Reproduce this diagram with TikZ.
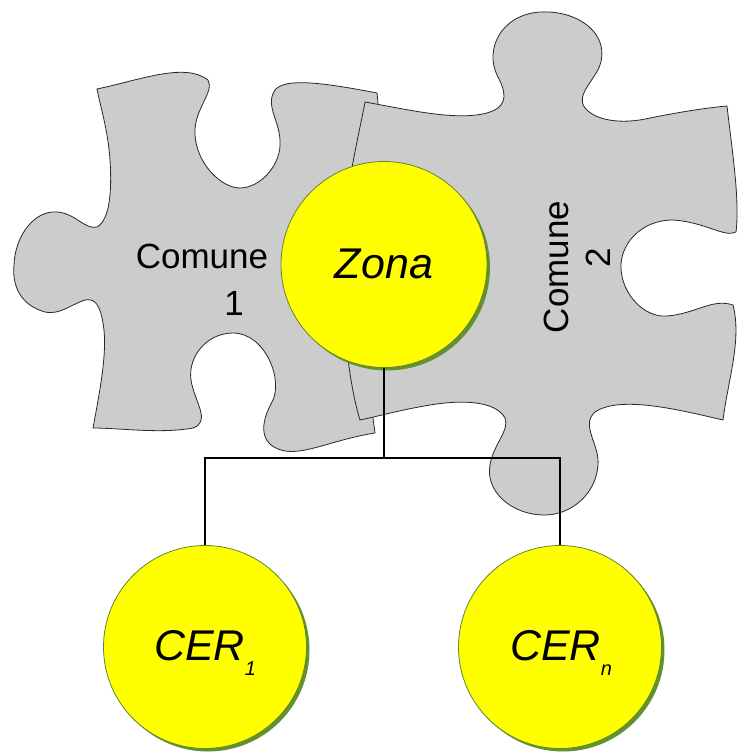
\documentclass[tikz,border=0pt]{standalone}
\usepackage{fontspec}
\setmainfont{Liberation Sans}
\usetikzlibrary{shadows}
\definecolor{piecegray}{RGB}{204,204,204}
\definecolor{pieceline}{RGB}{40,40,40}
\definecolor{bubble}{RGB}{255,255,0}
\definecolor{bubbleline}{RGB}{95,135,50}
\definecolor{bubbleshadow}{RGB}{100,145,45}
\newcommand{\subidx}[1]{\raisebox{-15pt}{\fontsize{20}{20}\selectfont #1}}
\begin{document}
\begin{tikzpicture}[x=1pt,y=-1pt,
  piece/.style={fill=piecegray,draw=pieceline,line width=0.8pt},
  bubblenode/.style={circle,minimum size=206pt,inner sep=0pt,fill=bubble,
    draw=bubbleline,line width=0.8pt,
    drop shadow={shadow xshift=3pt,shadow yshift=-3pt,fill=bubbleshadow,opacity=1}},
  label1/.style={font=\fontsize{35}{35}\selectfont,inner sep=0pt},
  bigit/.style={font=\fontsize{43}{43}\selectfont\itshape,inner sep=0pt},
  conn/.style={line width=1.8pt,black}]
\useasboundingbox (0,0) rectangle (737,753);

% first puzzle piece (Comune 1)
\draw[piece] (97,89)
  .. controls (140,80) and (185,62) .. (208,80)
  .. controls (215,92) and (193,110) .. (195,135)
  .. controls (197,165) and (222,188) .. (240,188)
  .. controls (260,188) and (282,165) .. (280,140)
  .. controls (279,120) and (265,105) .. (275,90)
  .. controls (285,78) and (320,82) .. (377,93)
  -- (378,103) -- (373,418) -- (375,433)
  .. controls (330,440) and (300,458) .. (278,449)
  .. controls (258,441) and (262,420) .. (272,402)
  .. controls (284,380) and (265,333) .. (233,333)
  .. controls (205,333) and (185,360) .. (192,385)
  .. controls (197,405) and (210,422) .. (193,428)
  .. controls (160,434) and (120,428) .. (93,428)
  .. controls (100,390) and (108,350) .. (103,323)
  .. controls (100,305) and (95,298) .. (85,300)
  .. controls (70,305) and (60,315) .. (45,312)
  .. controls (20,305) and (12,285) .. (14,265)
  .. controls (15,235) and (35,210) .. (57,212)
  .. controls (75,213) and (85,230) .. (97,227)
  .. controls (110,220) and (112,190) .. (110,160)
  .. controls (108,130) and (100,105) .. (97,89) -- cycle;

% second puzzle piece (Comune 2)
\draw[piece] (365,102)
  .. controls (410,110) and (460,122) .. (490,112)
  .. controls (510,105) and (505,90) .. (497,75)
  .. controls (485,50) and (500,15) .. (540,12)
  .. controls (580,10) and (610,35) .. (600,65)
  .. controls (595,80) and (575,95) .. (585,108)
  .. controls (595,120) and (620,125) .. (650,118)
  .. controls (680,112) and (705,108) .. (727,106)
  .. controls (732,150) and (740,200) .. (736,232)
  .. controls (725,238) and (705,222) .. (673,220)
  .. controls (640,220) and (620,245) .. (621,268)
  .. controls (622,295) and (645,318) .. (667,316)
  .. controls (695,314) and (712,298) .. (733,305)
  .. controls (742,340) and (728,380) .. (723,420)
  .. controls (680,410) and (620,395) .. (595,412)
  .. controls (580,425) and (600,445) .. (598,465)
  .. controls (596,495) and (570,515) .. (545,515)
  .. controls (510,515) and (485,490) .. (490,465)
  .. controls (493,445) and (510,430) .. (505,418)
  .. controls (495,400) and (460,400) .. (430,405)
  .. controls (400,410) and (375,417) .. (360,420)
  .. controls (352,395) and (343,340) .. (342,270)
  .. controls (342,200) and (358,140) .. (365,102) -- cycle;

% piece labels
\node[label1,anchor=base] (c1) at (202,268) {Comune};
\node[label1,anchor=base] (c1n) at (234,315) {1};
\node[label1,anchor=base,rotate=90] (c2) at (568,267) {Comune};
\node[label1,anchor=base,rotate=90] (c2n) at (610,258) {2};

% bubbles
\node[bubblenode] (zona) at (384,264.5) {};
\node[bigit,anchor=base] (zonat) at (384,278) {Zona};
\node[bubblenode,minimum size=203pt] (cer1) at (205,647) {};
\node[bigit,anchor=base] (cer1t) at (205,660) {CER\subidx{1}};
\node[bubblenode,minimum size=203pt] (cern) at (560,647) {};
\node[bigit,anchor=base] (cernt) at (561,660) {CER\subidx{n}};

% tree connectors
\coordinate (j) at (384,458);
\draw[conn] (zona.south) -- (j);
\draw[conn] (cer1.north) |- (j) -| (cern.north);
\end{tikzpicture}
\end{document}
